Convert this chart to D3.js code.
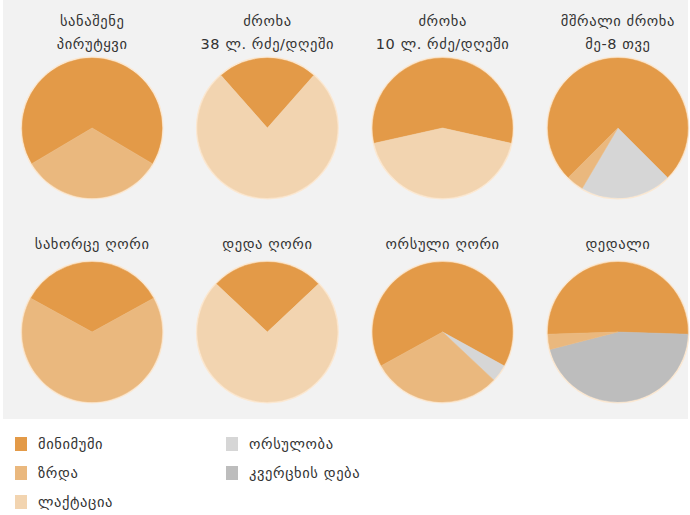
<!DOCTYPE html>
<html>
<head>
<meta charset="utf-8">
<script src="https://cdn.jsdelivr.net/npm/d3@7"></script>
<style>
    body { margin: 0; background: #ffffff; }
    svg { display: block; font-family: "DejaVu Sans", sans-serif; }
</style>
</head>
<body>
<div id="chart"></div>
<script>

//******************************************************************************
//**  Data
//******************************************************************************
var titles = [
    ["სანაშენე", "პირუტყვი"],
    ["ძროხა", "38 ლ. რძე/დღეში"],
    ["ძროხა", "10 ლ. რძე/დღეში"],
    ["მშრალი ძროხა", "მე-8 თვე"],
    ["სახორცე ღორი"],
    ["დედა ღორი"],
    ["ორსული ღორი"],
    ["დედალი"]
];

//percent of each pie, slices drawn clockwise in this order
var minimum   = [67, 23, 57, 75, 34, 26, 66, 51];
var pregnancy = [0, 0, 0, 21, 0, 0, 4, 0];
var eggLaying = [0, 0, 0, 0, 0, 0, 0, 45.5];
var growth    = [33, 0, 0, 4, 66, 0, 30, 3.5];
var lactation = [0, 77, 43, 0, 0, 74, 0, 0];

var seriesNames = ["მინიმუმი", "ორსულობა", "კვერცხის დება", "ზრდა", "ლაქტაცია"];
var seriesColors = ["#e39a48", "#d6d6d6", "#bdbdbd", "#eab87e", "#f2d4b0"];

var legendCol1 = ["მინიმუმი", "ზრდა", "ლაქტაცია"];
var legendCol2 = ["ორსულობა", "კვერცხის დება"];


//******************************************************************************
//**  Chart
//******************************************************************************
var width = 690, height = 515;
var radius = 70;
var fontSize = 14.5;

var svg = d3.select("#chart").append("svg")
    .attr("width", width)
    .attr("height", height);

svg.append("rect")
    .attr("x", 3).attr("y", 0)
    .attr("width", width - 5).attr("height", 419)
    .attr("fill", "#f2f2f2");

var x = d3.scaleBand().domain(d3.range(4)).range([4.5, 705.5]);
var rowY = [128, 332];
var titleY = [[26, 49], [249]];

var color = d3.scaleOrdinal().domain(seriesNames).range(seriesColors);
var arc = d3.arc().innerRadius(0).outerRadius(radius);


  //Draw pies
    titles.forEach(function(title, i){
        var col = i % 4, row = Math.floor(i / 4);
        var cx = x(col) + x.bandwidth() / 2;

        var values = [minimum[i], pregnancy[i], eggLaying[i], growth[i], lactation[i]];
        var slices = values.map(function(v, j){ return { name: seriesNames[j], value: v }; })
            .filter(function(d){ return d.value > 0; });

      //Center the minimum slice on top
        var total = d3.sum(values);
        var start = -minimum[i] / total * Math.PI;
        var pie = d3.pie().sort(null).value(function(d){ return d.value; })
            .startAngle(start).endAngle(start + 2 * Math.PI);

        var g = svg.append("g")
            .attr("transform", "translate(" + cx + "," + rowY[row] + ")");

        g.append("circle")
            .attr("r", radius + 0.5)
            .attr("fill", "none")
            .attr("stroke", "#fbe8d2")
            .attr("stroke-width", 2);

        g.selectAll("path")
            .data(pie(slices))
            .enter()
            .append("path")
            .attr("d", arc)
            .attr("fill", function(d){ return color(d.data.name); })
            .attr("stroke", function(d){ return color(d.data.name); })
            .attr("stroke-width", 0.5);

        title.forEach(function(line, k){
            svg.append("text")
                .attr("x", cx)
                .attr("y", titleY[row][k])
                .attr("text-anchor", "middle")
                .attr("font-size", fontSize)
                .attr("letter-spacing", 0.6)
                .attr("fill", "#333")
                .text(line);
        });
    });


  //Draw legend
    var drawLegend = function(items, lx){
        items.forEach(function(name, k){
            var ly = 437 + k * 29;
            svg.append("rect")
                .attr("x", lx).attr("y", ly)
                .attr("width", 12).attr("height", 14)
                .attr("fill", color(name));
            svg.append("text")
                .attr("x", lx + 23)
                .attr("y", ly + 12)
                .attr("font-size", fontSize)
                .attr("letter-spacing", 0.6)
                .attr("fill", "#333")
                .text(name);
        });
    };
    drawLegend(legendCol1, 15);
    drawLegend(legendCol2, 226);

</script>
</body>
</html>
